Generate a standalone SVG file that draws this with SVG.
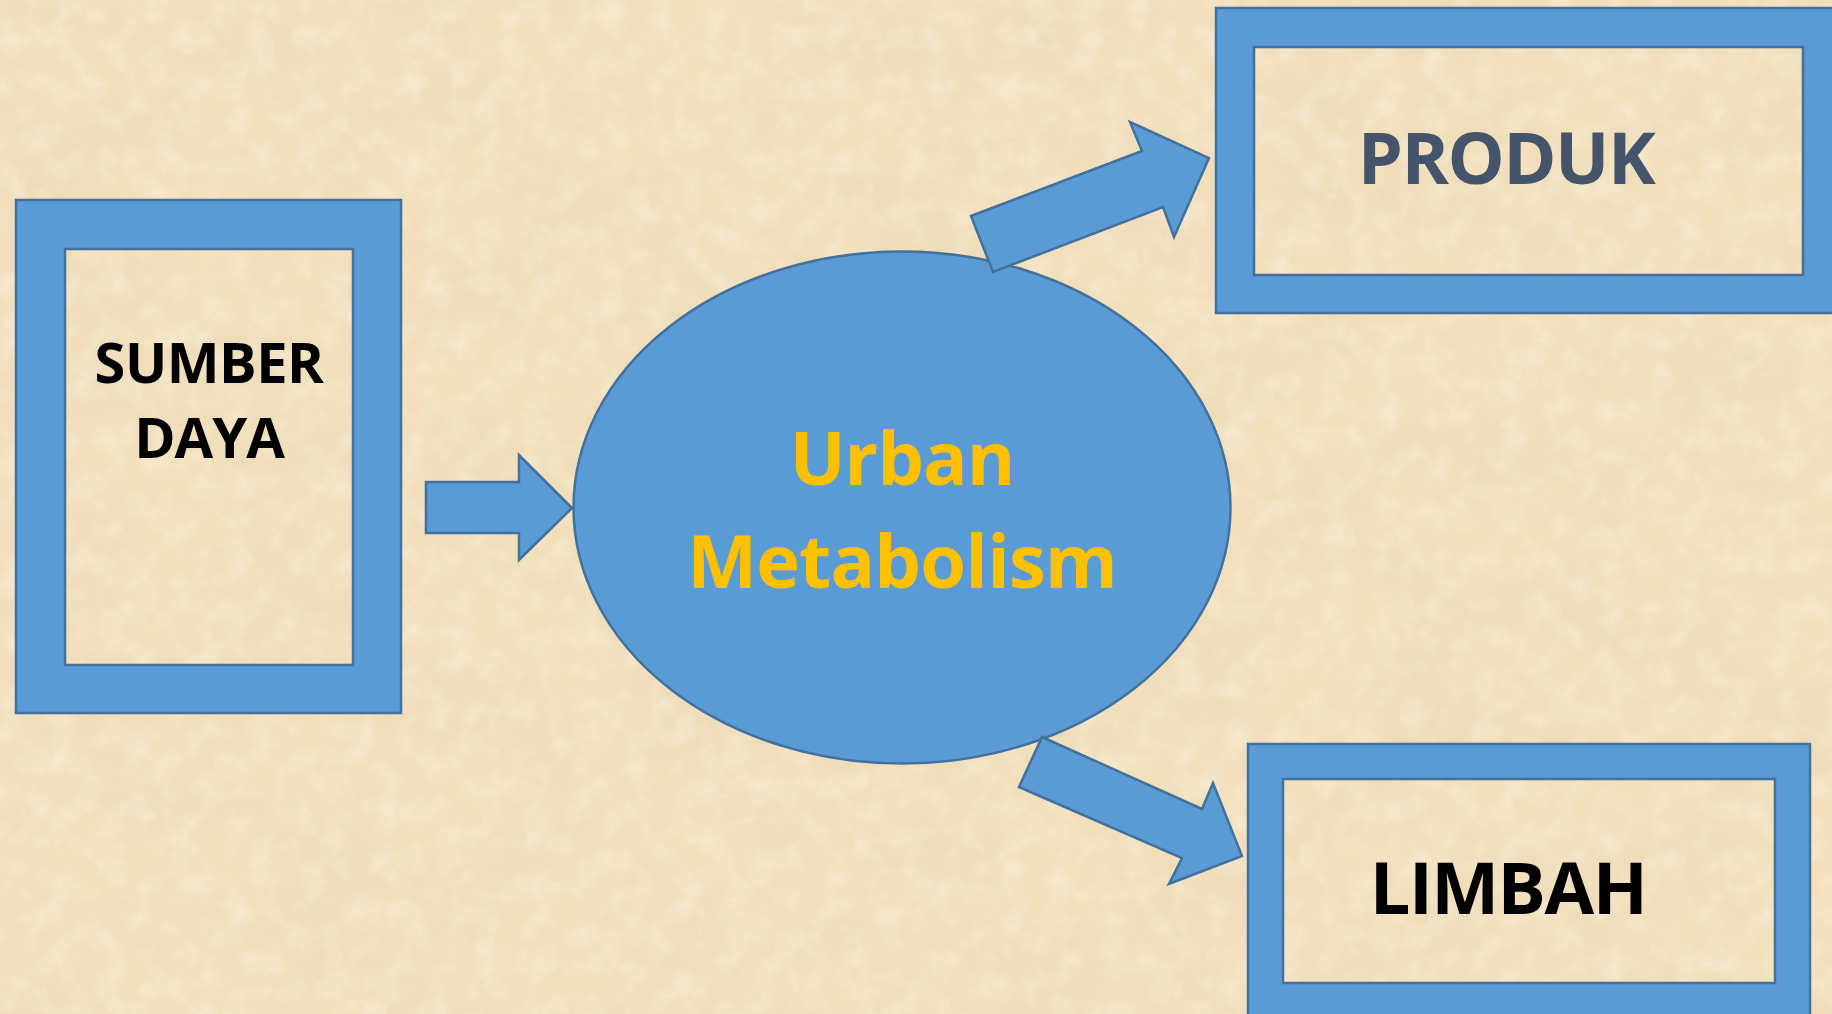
<svg xmlns="http://www.w3.org/2000/svg" width="1832" height="1014" viewBox="0 0 1832 1014">
  <defs>
    <filter id="paper" x="0" y="0" width="100%" height="100%" filterUnits="userSpaceOnUse">
      <feTurbulence type="fractalNoise" baseFrequency="0.008 0.012" numOctaves="5" seed="7" result="n"/>
      <feColorMatrix in="n" type="matrix" values="0 0 0 0 0.80  0 0 0 0 0.68  0 0 0 0 0.46  1.8 0 0 0 -0.70"/>
    </filter>
    <filter id="paper2" x="0" y="0" width="100%" height="100%" filterUnits="userSpaceOnUse">
      <feTurbulence type="fractalNoise" baseFrequency="0.04" numOctaves="3" seed="2" result="n"/>
      <feColorMatrix in="n" type="matrix" values="0 0 0 0 1  0 0 0 0 0.97  0 0 0 0 0.88  1.6 0 0 0 -0.7"/>
    </filter>
  </defs>
  <style>
    .shape { fill: #5B9BD5; stroke: #41719C; stroke-width: 2.5; stroke-linejoin: miter; }
    .frame { fill-rule: evenodd; }
    .lbl { font-family: "Open Sans", "Noto Sans", "Liberation Sans", sans-serif; font-weight: bold; text-anchor: middle; }
  </style>
  <rect x="0" y="0" width="1832" height="1014" fill="#F1DFBC"/>
  <rect x="0" y="0" width="1832" height="1014" filter="url(#paper)" opacity="0.5"/>
  <rect x="0" y="0" width="1832" height="1014" filter="url(#paper2)" opacity="0.5"/>

  <g id="sumber-daya">
    <path class="shape frame" d="M16 200 H401 V713 H16 Z M65 249 V665 H353 V249 Z"/>
    <text class="lbl" x="209" y="383" font-size="56" fill="#000000" letter-spacing="-0.5">SUMBER</text>
    <text class="lbl" x="209" y="458" font-size="56" fill="#000000" letter-spacing="-1">DAYA</text>
  </g>

  <g id="urban-metabolism">
    <ellipse class="shape" cx="902" cy="507.5" rx="328.5" ry="256"/>
    <text class="lbl" x="902" y="485" font-size="74" fill="#FFC000" letter-spacing="-1">Urban</text>
    <text class="lbl" x="902" y="588" font-size="74" fill="#FFC000" letter-spacing="-0.8">Metabolism</text>
  </g>

  <g id="produk">
    <path class="shape frame" d="M1216 8 H1842 V313 H1216 Z M1254 47 V275 H1803 V47 Z"/>
    <text class="lbl" x="1506" y="184" font-size="72" fill="#44546A" letter-spacing="-1.5">PRODUK</text>
  </g>

  <g id="limbah">
    <path class="shape frame" d="M1248 744 H1810 V1030 H1248 Z M1283 779 V983 H1775 V779 Z"/>
    <text class="lbl" x="1508" y="914" font-size="72" fill="#000000" letter-spacing="-1.5">LIMBAH</text>
  </g>

  <g id="connectors">
    <polygon class="shape" points="426,482 519,482 519,455 572,508 519,560 519,533 426,533"/>
    <polygon class="shape" points="971,216 1142,151 1130,122 1209,158 1174,237 1163,207 993,272"/>
    <polygon class="shape" points="1042,737 1202,809 1213,783 1242,856 1169,884 1182,858 1019,787"/>
  </g>
</svg>
